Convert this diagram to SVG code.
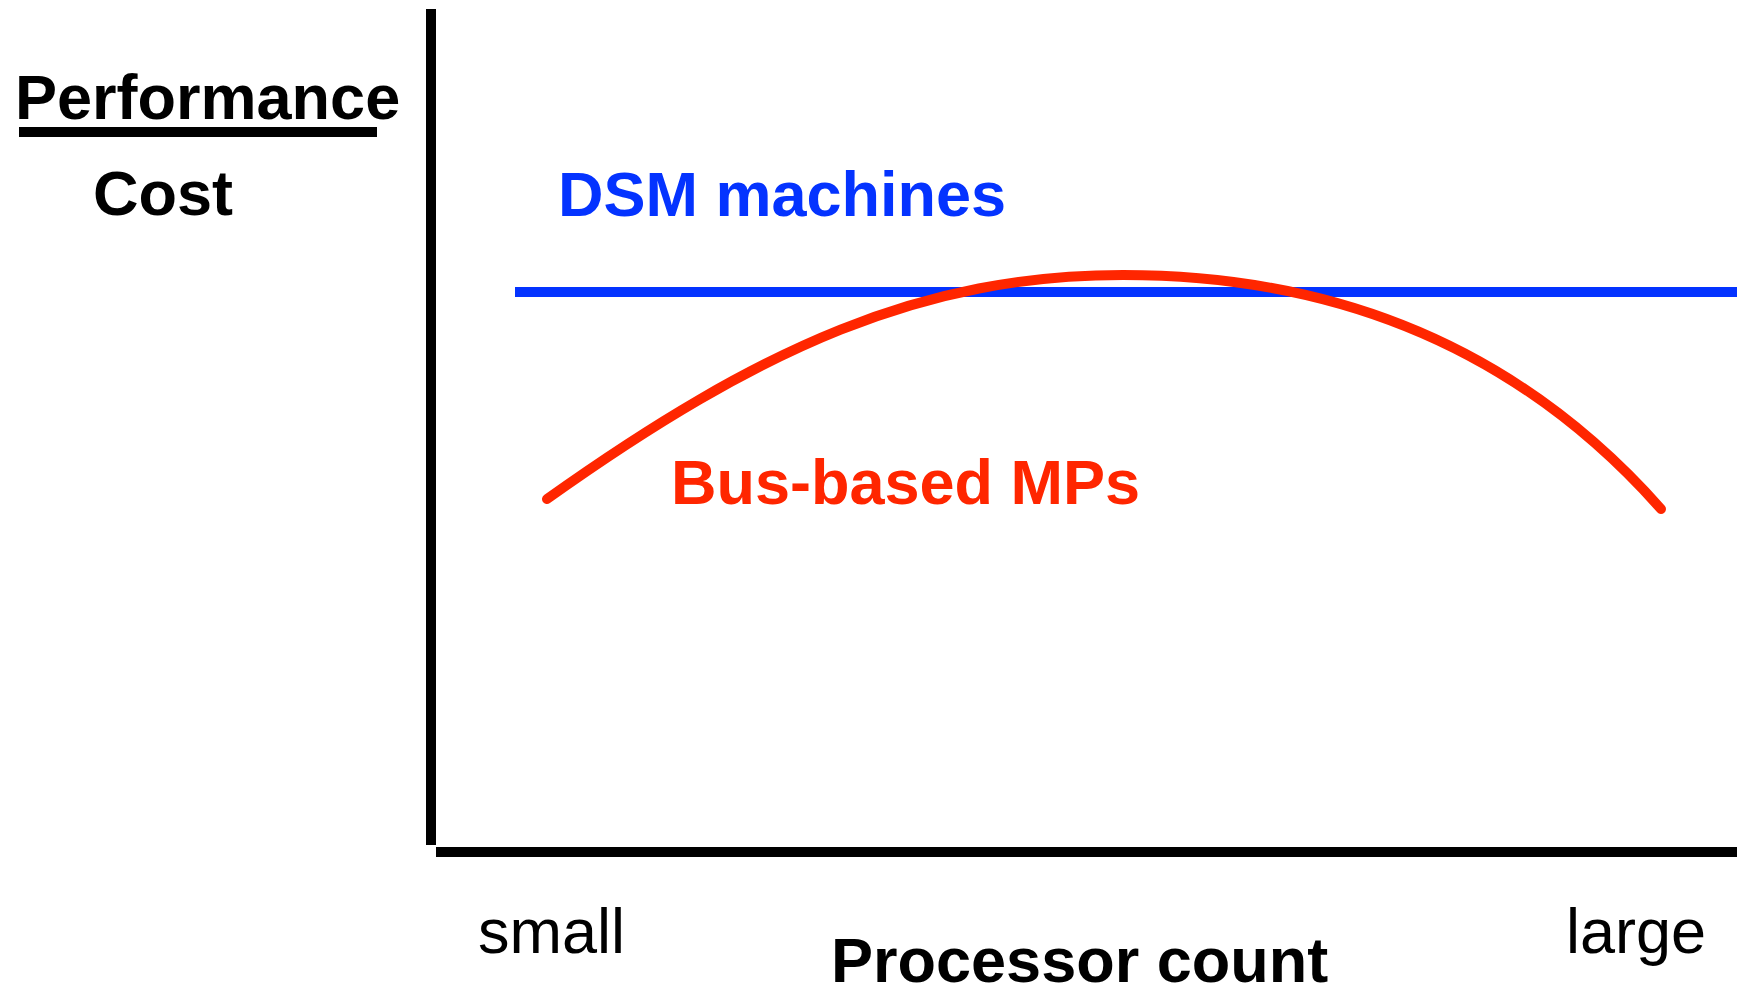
<svg xmlns="http://www.w3.org/2000/svg" width="1737" height="989" viewBox="0 0 1737 989">
<style>
text{font-family:"Liberation Sans",Arial,Helvetica,sans-serif;font-size:63px}
.b{font-weight:bold}
.k{fill:#000}
.blue{fill:#0433FF}
.red{fill:#FF2600}
</style>
<rect width="1737" height="989" fill="#fff"/>
<g id="axes">
<rect x="426" y="9" width="10" height="836" fill="#000"/>
<rect x="436" y="847" width="1301" height="10" fill="#000"/>
</g>
<g id="ylabel">
<text class="b k" x="15" y="119">Performance</text>
<rect x="19" y="127" width="358" height="10" fill="#000"/>
<text class="b k" x="93" y="215">Cost</text>
</g>
<g id="curves">
<line x1="515" y1="292" x2="1737" y2="292" stroke="#0433FF" stroke-width="10"/>
<path d="M547,499 C762,346 923,275 1123,275 C1323,275 1511,339.5 1661,509" fill="none" stroke="#FF2600" stroke-width="10" stroke-linecap="round"/>
</g>
<g id="dsm"><text class="b blue" x="558" y="216">DSM machines</text></g>
<g id="bus"><text class="b red" x="671" y="504">Bus-based MPs</text></g>
<g id="xlabels">
<text class="k" x="478" y="953">small</text>
<text class="k" x="1566" y="953">large</text>
<text class="b k" x="831" y="982">Processor count</text>
</g>
</svg>
